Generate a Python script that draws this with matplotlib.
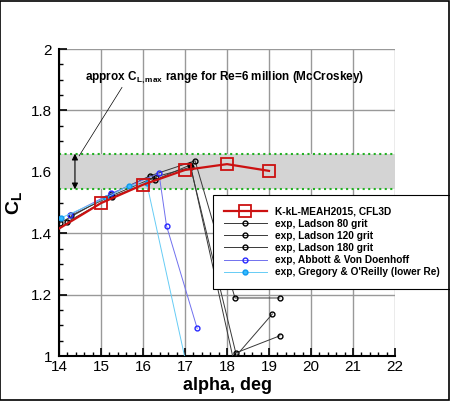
import numpy as np
import matplotlib
matplotlib.use('Agg')
import matplotlib.pyplot as plt
from matplotlib.ticker import MultipleLocator, FormatStrFormatter
from matplotlib.patches import Rectangle

plt.rcParams['font.family'] = ['Liberation Sans', 'DejaVu Sans']
plt.rcParams['mathtext.fontset'] = 'custom'
plt.rcParams['mathtext.rm'] = 'Liberation Sans'
plt.rcParams['mathtext.bf'] = 'Liberation Sans:bold'

# CFD (K-kL-MEAH2015, CFL3D)
cfd_alpha = [14, 15, 16, 17, 18, 19]
cfd_cl = [1.415, 1.498, 1.558, 1.606, 1.625, 1.603]

# Ladson experiments
lad80_alpha = [14.03, 15.24, 16.17, 17.24, 18.19, 19.26]
lad80_cl = [1.434, 1.527, 1.587, 1.636, 1.189, 1.189]
lad120_alpha = [14.20, 15.27, 16.28, 17.12, 18.21, 19.26]
lad120_cl = [1.437, 1.519, 1.573, 1.622, 1.010, 1.066]
lad180_alpha = [14.29, 15.25, 16.31, 17.14, 18.15, 19.08]
lad180_cl = [1.458, 1.522, 1.584, 1.615, 0.990, 1.137]

# Abbott & Von Doenhoff
abb_alpha = [14.26, 15.25, 16.38, 16.56, 17.29]
abb_cl = [1.460, 1.530, 1.595, 1.424, 1.090]

# Gregory & O'Reilly
gre_alpha = [14.05, 15.13, 15.67, 16.09, 17.10]
gre_cl = [1.450, 1.516, 1.555, 1.562, 0.930]

# McCroskey CLmax band
band_lo, band_hi = 1.543, 1.659

fig = plt.figure(figsize=(4.5, 4.01), dpi=100)
ax = fig.add_axes([0.1311, 0.1122, 0.7467, 0.7656])

ax.set_xlim(14, 22)
ax.set_ylim(1, 2)

ax.axhspan(band_lo, band_hi, color='#d4d4d4', zorder=1, lw=0)
for yb in (band_lo, band_hi):
    ax.axhline(yb, color='#22b022', lw=1.5, ls=':', zorder=2)

lk = dict(lw=0.7, marker='o', ms=3.5, mfc='none', mew=1.0, zorder=3)
ax.plot(lad80_alpha, lad80_cl, color='#383838', mec='k', label='exp, Ladson 80 grit', **lk)
ax.plot(lad120_alpha, lad120_cl, color='#383838', mec='k', label='exp, Ladson 120 grit', **lk)
ax.plot(lad180_alpha, lad180_cl, color='#383838', mec='k', label='exp, Ladson 180 grit', **lk)
ax.plot(abb_alpha, abb_cl, color='#7070ee', mec='#2828ff', label='exp, Abbott & Von Doenhoff', **lk)
ax.plot(gre_alpha, gre_cl, color='#66ccf5', mec='#1199ee', label="exp, Gregory & O'Reilly (lower Re)",
        lw=0.7, marker='o', ms=3.5, mfc='#33bbff', mew=1.0, zorder=3)
ax.plot(cfd_alpha, cfd_cl, color='#cc1111', lw=1.6, marker='s', ms=8, mfc='none', mew=1.3,
        markevery=list(range(1, len(cfd_alpha))), label='K-kL-MEAH2015, CFL3D', zorder=4)

ax.xaxis.set_major_locator(MultipleLocator(1))
ax.xaxis.set_minor_locator(MultipleLocator(0.2))
ax.yaxis.set_major_locator(MultipleLocator(0.2))
ax.yaxis.set_minor_locator(MultipleLocator(0.05))
ax.yaxis.set_major_formatter(FormatStrFormatter('%g'))
ax.tick_params(which='major', direction='in', length=6, width=1.2, labelsize=11, pad=3)
ax.tick_params(which='minor', direction='in', length=3, width=1.0)
ax.tick_params(axis='y', pad=5)
ax.grid(True, which='major', color='#999999', lw=1.0)
ax.set_axisbelow(True)
ax.yaxis.get_gridlines()[-1].set_visible(False)
for s in ('top', 'right'):
    ax.spines[s].set_visible(False)
for s in ('left', 'bottom'):
    ax.spines[s].set_linewidth(1.5)

ax.set_xlabel('alpha, deg', fontsize=13, fontweight='bold', labelpad=2)
ax.set_ylabel(r'$\mathbf{C_L}$', fontsize=14, labelpad=5)

# band annotation
ax.annotate('', xy=(14.38, band_lo), xytext=(14.38, band_hi),
            arrowprops=dict(arrowstyle='<|-|>', color='k', lw=0.8, mutation_scale=9,
                            shrinkA=0, shrinkB=0), zorder=5)
ax.plot([15.5, 14.48], [1.875, 1.652], color='k', lw=0.5, zorder=5)
ax.text(17.93, 1.905, r'approx C$_{\mathbf{L,max}}$ range for Re=6 million (McCroskey)',
        ha='center', va='center', fontsize=8.5, fontweight='bold', zorder=5)

handles, labels = ax.get_legend_handles_labels()
order = [5, 0, 1, 2, 3, 4]
leg = ax.legend([handles[i] for i in order], [labels[i] for i in order],
                loc='upper left', bbox_to_anchor=(0.458, 0.524), borderaxespad=0,
                fancybox=False, framealpha=1, edgecolor='k',
                prop={'weight': 'bold', 'size': 7.3}, handlelength=4.2,
                handletextpad=0.8, labelspacing=0.22, borderpad=1.1)
leg.get_frame().set_linewidth(0.8)
leg.set_zorder(6)

fig.patches.append(Rectangle((0.001, 0.003), 0.997, 0.995, transform=fig.transFigure,
                             fill=False, edgecolor='k', lw=1.2))

fig.savefig('out.png', dpi=100)
